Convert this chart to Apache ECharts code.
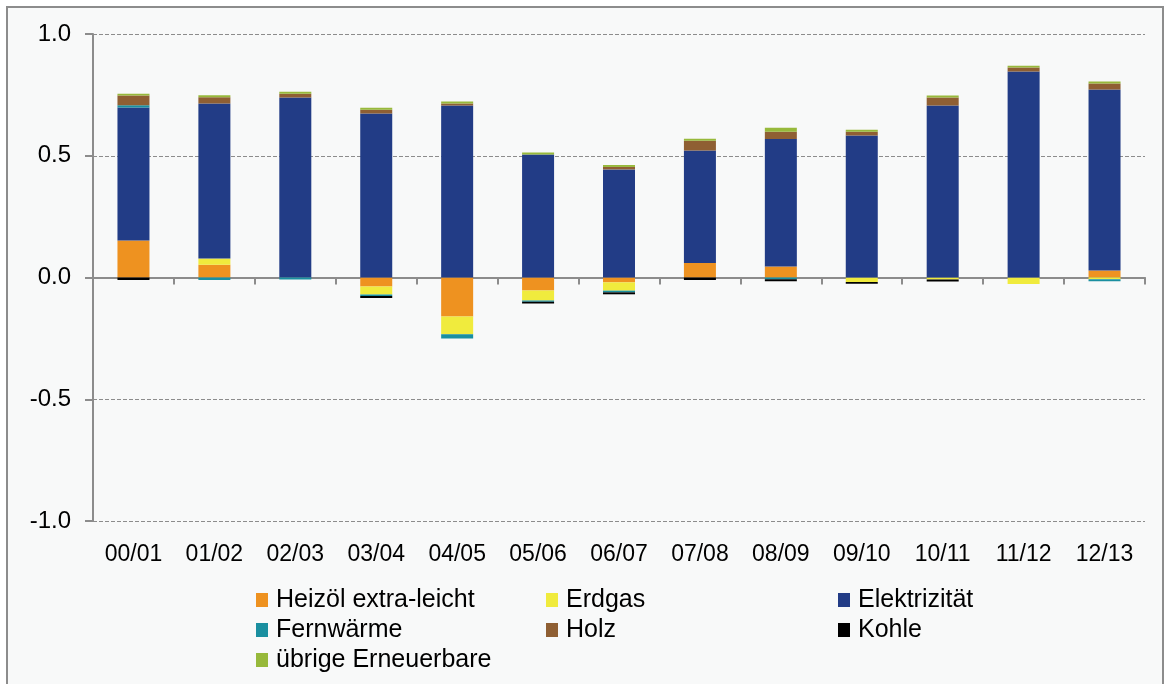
<!DOCTYPE html>
<html>
<head>
<meta charset="utf-8">
<script src="https://cdn.jsdelivr.net/npm/echarts@6/dist/echarts.min.js"></script>
<style>
  html, body { margin: 0; padding: 0; background: #ffffff; }
  #chart { width: 1171px; height: 684px; }
</style>
</head>
<body>
<div id="chart"></div>
<script>
// Jahre (Kategorien) und Beiträge je Energieträger
const categories = ['00/01', '01/02', '02/03', '03/04', '04/05', '05/06', '06/07', '07/08', '08/09', '09/10', '10/11', '11/12', '12/13'];
const heizoel = [0.152, 0.052, 0, -0.037, -0.16, -0.053, -0.02, 0.06, 0.045, 0, 0, 0, 0.029];
const erdgas = [0, 0.026, 0, -0.033, -0.073, -0.041, -0.034, 0, 0, -0.018, -0.008, -0.027, -0.007];
const elektrizitaet = [0.546, 0.637, 0.739, 0.673, 0.706, 0.505, 0.444, 0.462, 0.524, 0.583, 0.706, 0.846, 0.743];
const fernwaerme = [0.009, -0.01, -0.008, -0.006, -0.018, -0.006, -0.007, 0, -0.007, 0, 0, 0, -0.008];
const holz = [0.04, 0.025, 0.016, 0.016, 0.009, 0, 0.01, 0.04, 0.03, 0.016, 0.033, 0.016, 0.025];
const kohle = [-0.01, 0, 0, -0.008, 0, -0.007, -0.008, -0.01, -0.008, -0.008, -0.008, 0, 0];
const uebrige = [0.008, 0.008, 0.008, 0.008, 0.008, 0.008, 0.008, 0.008, 0.016, 0.008, 0.008, 0.008, 0.008];
const yTicks = [-1, -0.5, 0, 0.5, 1];

const font = '"Liberation Sans", Arial, sans-serif';
const grey = '#8c8c8c';

function bar(name, data, color) {
  return {
    name: name,
    type: 'bar',
    stack: 'total',
    barWidth: 32,
    data: data,
    itemStyle: { color: color }
  };
}

function legendCol(left, names) {
  return {
    orient: 'vertical',
    left: left,
    top: 587,
    padding: 0,
    itemWidth: 12,
    itemHeight: 14,
    itemGap: 4,
    icon: 'rect',
    data: names,
    textStyle: { fontFamily: font, fontSize: 25, color: '#000', lineHeight: 26, padding: [0, 0, 0, 3] }
  };
}

const chart = echarts.init(document.getElementById('chart'));
chart.setOption({
  backgroundColor: '#ffffff',
  animation: false,
  graphic: [{
    type: 'rect',
    z: -10,
    shape: { x: 7, y: 7, width: 1156, height: 700 },
    style: { fill: '#f8f9f9', stroke: grey, lineWidth: 2 }
  }],
  legend: [
    legendCol(256, ['Heizöl extra-leicht', 'Fernwärme', 'übrige Erneuerbare']),
    legendCol(546, ['Erdgas', 'Holz']),
    legendCol(838, ['Elektrizität', 'Kohle'])
  ],
  grid: { left: 93, right: 26, top: 34, bottom: 163, outerBoundsMode: 'none' },
  xAxis: [{
    type: 'category',
    data: categories,
    position: 'bottom',
    axisLine: { onZero: true, lineStyle: { color: grey, width: 2 } },
    axisTick: { show: true, length: 7, lineStyle: { color: grey, width: 2 } },
    axisLabel: { show: false }
  }, {
    type: 'category',
    data: categories,
    position: 'bottom',
    axisLine: { show: false, onZero: false },
    axisTick: { show: false },
    axisLabel: { fontFamily: font, fontSize: 23, color: '#000', margin: 22 }
  }],
  yAxis: {
    type: 'value',
    min: yTicks[0],
    max: yTicks[yTicks.length - 1],
    interval: 0.5,
    axisLine: { show: true, lineStyle: { color: grey, width: 2 } },
    axisTick: { show: true, length: 8, lineStyle: { color: grey, width: 2 } },
    axisLabel: {
      fontFamily: font, fontSize: 24, color: '#000', margin: 22,
      formatter: function (v) { return v.toFixed(1); }
    },
    splitLine: { show: true, lineStyle: { color: grey, width: 1, type: [4, 2] } }
  },
  series: [
    bar('Heizöl extra-leicht', heizoel, '#ee9220'),
    bar('Erdgas', erdgas, '#f0eb3d'),
    bar('Elektrizität', elektrizitaet, '#223c86'),
    bar('Fernwärme', fernwaerme, '#1a8fa0'),
    bar('Holz', holz, '#8f5f33'),
    bar('Kohle', kohle, '#000000'),
    bar('übrige Erneuerbare', uebrige, '#97b93b')
  ]
});
</script>
</body>
</html>
